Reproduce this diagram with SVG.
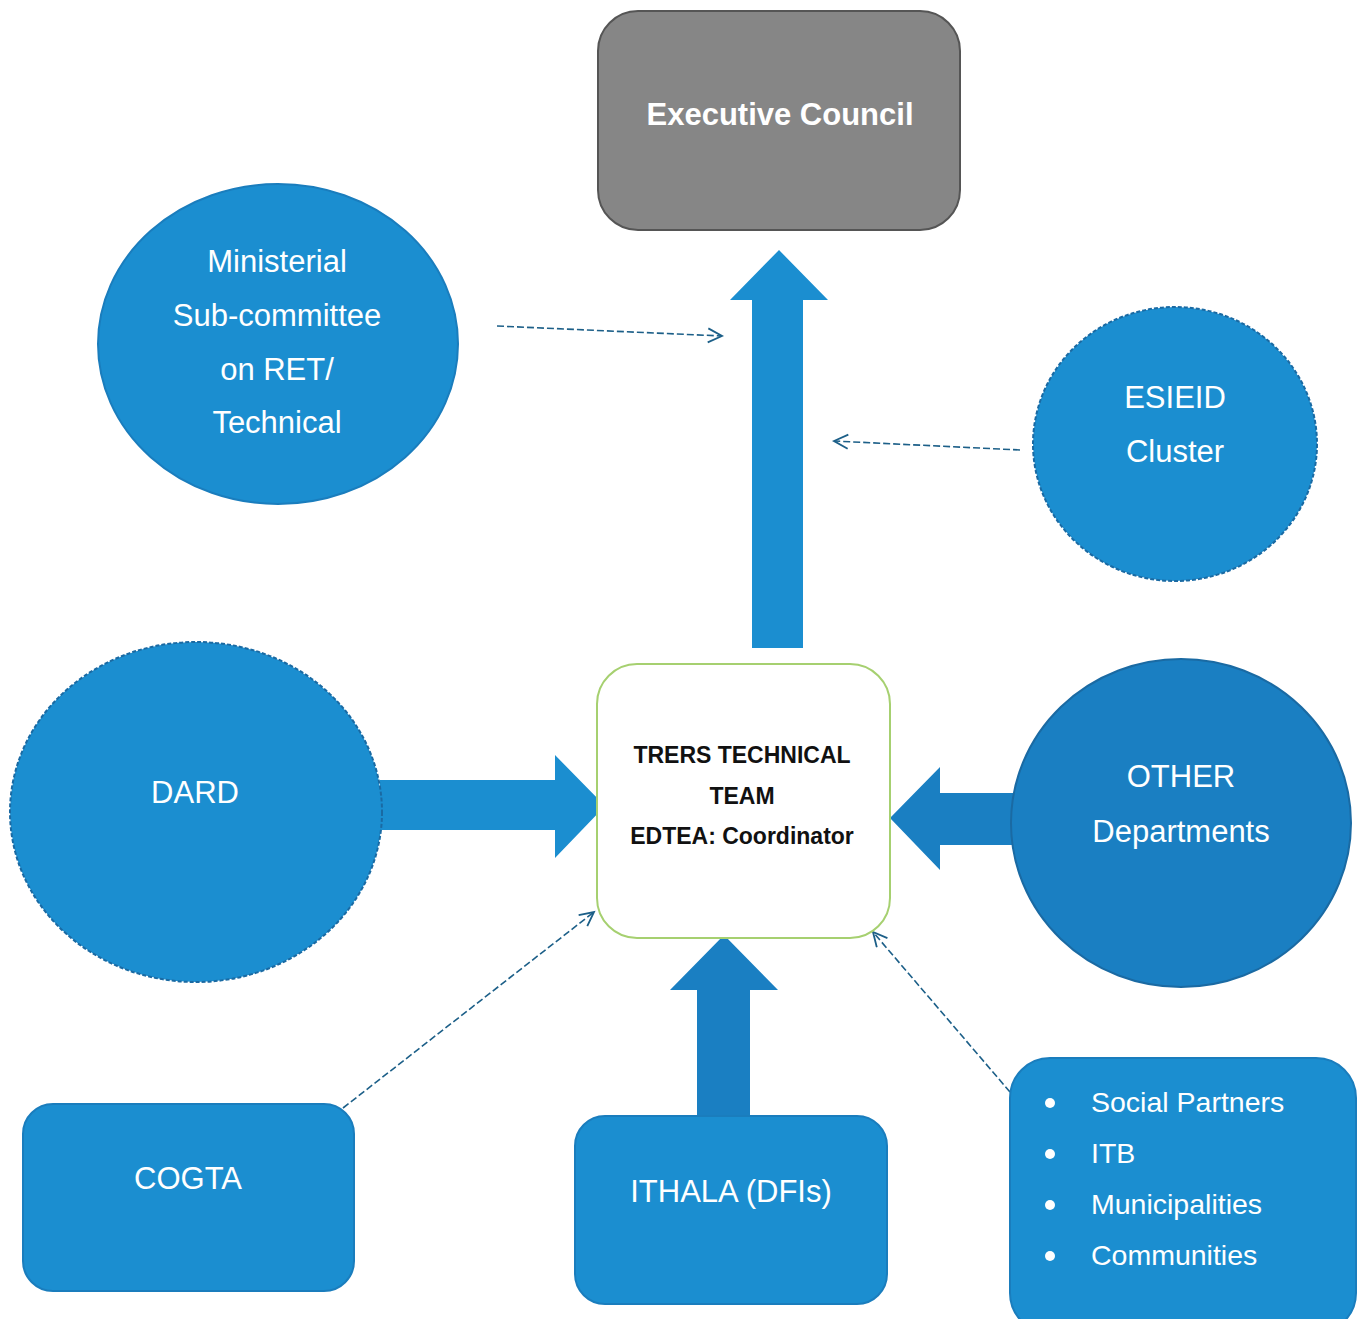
<svg xmlns="http://www.w3.org/2000/svg" width="1360" height="1319" viewBox="0 0 1360 1319">
<defs>
<style>
.blue{fill:#1b8ed0;}
.dark{fill:#1a7fc2;}
.dash{stroke:#1c5f88;stroke-dasharray:7 3;stroke-width:1.6;fill:none;}
.lbl{font-family:"Liberation Sans",Arial,sans-serif;fill:#ffffff;font-size:31px;text-anchor:middle;}
.blk{font-family:"Liberation Sans",Arial,sans-serif;fill:#111111;font-size:23px;font-weight:bold;text-anchor:middle;}
.li{font-family:"Liberation Sans",Arial,sans-serif;fill:#ffffff;font-size:28.5px;}
</style>
<marker id="open" markerWidth="20" markerHeight="20" refX="16" refY="8" orient="auto" markerUnits="userSpaceOnUse">
<path d="M2,1 L16,8 L2,15" fill="none" stroke="#1c5f88" stroke-width="1.8"/>
</marker>
</defs>
<rect width="1360" height="1319" fill="#ffffff"/>

<g id="connectors">
<polygon class="blue" points="752,648 803,648 803,300 828,300 779,250 730,300 752,300"/>
<polygon class="blue" points="380,780 555,780 555,755 605,806 555,858 555,830 380,830"/>
<polygon class="dark" points="1015,793 940,793 940,767 890,818 940,870 940,845 1015,845"/>
<polygon class="dark" points="697,1120 750,1120 750,990 778,990 724,935 670,990 697,990"/>
<line class="dash" x1="497" y1="326" x2="722" y2="336" marker-end="url(#open)"/>
<line class="dash" x1="1020" y1="450" x2="834" y2="441" marker-end="url(#open)"/>
<line class="dash" x1="343" y1="1108" x2="594" y2="912" marker-end="url(#open)"/>
<line class="dash" x1="1010" y1="1092" x2="873" y2="932" marker-end="url(#open)"/>
</g>

<g id="executive-council">
<rect x="598" y="11" width="362" height="219" rx="40" fill="#868686" stroke="#555555" stroke-width="2"/>
<text x="780" y="125" class="lbl" style="font-weight:bold;font-size:31px;">Executive Council</text>
</g>

<g id="ministerial">
<ellipse cx="278" cy="344" rx="180" ry="160" class="blue" stroke="#1a7dbd" stroke-width="2"/>
<text class="lbl"><tspan x="277" y="272">Ministerial</tspan><tspan x="277" y="326">Sub-committee</tspan><tspan x="277" y="380">on RET/</tspan><tspan x="277" y="433">Technical</tspan></text>
</g>

<g id="esieid">
<ellipse cx="1175" cy="444" rx="142" ry="137" class="blue" stroke="#1a6aa3" stroke-width="2" stroke-dasharray="4 2"/>
<text class="lbl"><tspan x="1175" y="408">ESIEID</tspan><tspan x="1175" y="462">Cluster</tspan></text>
</g>

<g id="dard">
<ellipse cx="196" cy="812" rx="186" ry="170" class="blue" stroke="#1a6aa3" stroke-width="2" stroke-dasharray="4 2"/>
<text x="195" y="803" class="lbl">DARD</text>
</g>

<g id="trers">
<rect x="597" y="664" width="293" height="274" rx="40" fill="#ffffff" stroke="#a6d070" stroke-width="2"/>
<text class="blk"><tspan x="742" y="763">TRERS TECHNICAL</tspan><tspan x="742" y="804">TEAM</tspan><tspan x="742" y="844">EDTEA: Coordinator</tspan></text>
</g>

<g id="other">
<ellipse cx="1181" cy="823" rx="170" ry="164" class="dark" stroke="#1a6aa3" stroke-width="2"/>
<text class="lbl"><tspan x="1181" y="787">OTHER</tspan><tspan x="1181" y="842">Departments</tspan></text>
</g>

<g id="cogta">
<rect x="23" y="1104" width="331" height="187" rx="30" class="blue" stroke="#1a7dbd" stroke-width="2"/>
<text x="188" y="1189" class="lbl">COGTA</text>
</g>

<g id="ithala">
<rect x="575" y="1116" width="312" height="188" rx="30" class="blue" stroke="#1a7dbd" stroke-width="2"/>
<text x="731" y="1202" class="lbl">ITHALA (DFIs)</text>
</g>

<g id="partners">
<rect x="1010" y="1058" width="346" height="275" rx="40" class="blue" stroke="#1a7dbd" stroke-width="2"/>
<circle cx="1050" cy="1103" r="5" fill="#ffffff"/>
<circle cx="1050" cy="1154" r="5" fill="#ffffff"/>
<circle cx="1050" cy="1205" r="5" fill="#ffffff"/>
<circle cx="1050" cy="1256" r="5" fill="#ffffff"/>
<text x="1091" y="1112" class="li">Social Partners</text>
<text x="1091" y="1163" class="li">ITB</text>
<text x="1091" y="1214" class="li">Municipalities</text>
<text x="1091" y="1265" class="li">Communities</text>
</g>
</svg>
